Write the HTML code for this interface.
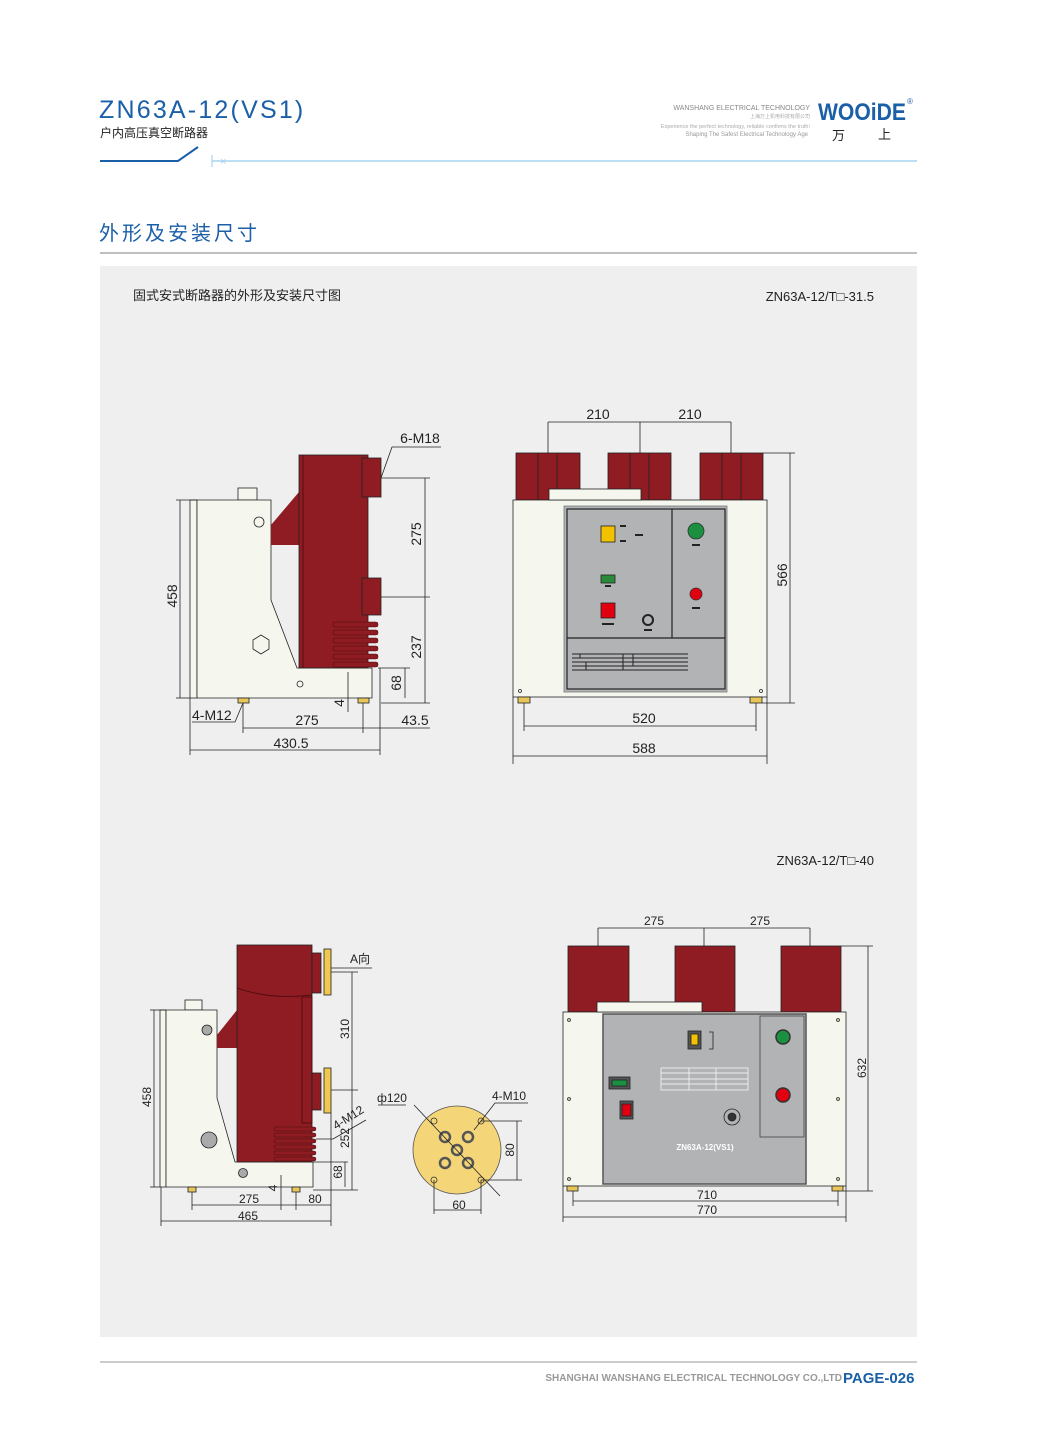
<!DOCTYPE html>
<html><head><meta charset="utf-8"><style>
html,body{margin:0;padding:0;background:#fff;}
svg{display:block;font-family:"Liberation Sans","Noto Sans CJK SC",sans-serif;}
</style></head><body>
<svg width="1055" height="1441" viewBox="0 0 1055 1441" xmlns="http://www.w3.org/2000/svg">
<rect width="1055" height="1441" fill="#fff"/>
<!-- header -->
<text x="99" y="118" font-size="25" fill="#1a5fa8" letter-spacing="2.2">ZN63A-12(VS1)</text>
<text x="100" y="137" font-size="12" fill="#222">户内高压真空断路器</text>
<polyline points="100,161 178,161 198,147" fill="none" stroke="#1a5fa8" stroke-width="2"/>
<line x1="212" y1="161" x2="917" y2="161" stroke="#a8d4f0" stroke-width="1.5"/>
<line x1="212" y1="155" x2="212" y2="167" stroke="#a8d4f0" stroke-width="1.2"/>
<text x="220" y="165" font-size="11" fill="#a8d4f0">×</text>
<text x="810" y="110" font-size="7" fill="#888" text-anchor="end">WANSHANG ELECTRICAL TECHNOLOGY</text>
<text x="810" y="118" font-size="5" fill="#aaa" text-anchor="end">上海万上机电科技有限公司</text>
<text x="810" y="128" font-size="5.5" fill="#aaa" text-anchor="end">Experience the perfect technology, reliable confirms the truth!</text>
<text x="808" y="136" font-size="6" fill="#999" text-anchor="end">Shaping The Safest Electrical Technology Age</text>
<text x="818" y="120" font-size="24" font-weight="bold" fill="#1a5fa8" textLength="88" lengthAdjust="spacingAndGlyphs">WOOiDE</text>
<text x="907" y="104" font-size="8" fill="#1a5fa8">®</text>
<text x="832" y="140" font-size="13" fill="#222">万</text>
<text x="878" y="139" font-size="13" fill="#222">上</text>
<text x="99" y="240" font-size="20" fill="#1a5fa8" letter-spacing="3">外形及安装尺寸</text>
<line x1="100" y1="253" x2="917" y2="253" stroke="#aaa" stroke-width="1.5"/>
<!-- panel -->
<rect x="100" y="266" width="817" height="1071" fill="#efefef"/>
<text x="133" y="300" font-size="13" fill="#222">固式安式断路器的外形及安装尺寸图</text>
<text x="874" y="301" font-size="13" fill="#222" text-anchor="end">ZN63A-12/T□-31.5</text>
<text x="874" y="865" font-size="13" fill="#222" text-anchor="end">ZN63A-12/T□-40</text>

<g stroke="#222" stroke-width="0.8" fill="none">
<!-- ===== Drawing 1 side view ===== -->
<rect x="238" y="488" width="19" height="12" fill="#f5f7ef"/>
<rect x="190" y="500" width="7" height="198" fill="#f5f7ef"/>
<path d="M197,500 L271,500 L271,600 L297,668 L372,668 L372,698 L197,698 Z" fill="#f5f7ef"/>
<path d="M271,525 L299,492 L299,545 L271,545 Z" fill="#8e1c22" stroke="none"/>
<rect x="299" y="455" width="69" height="213" fill="#8e1c22"/>
<line x1="303" y1="455" x2="303" y2="668" stroke="#4a0a0e"/>
<rect x="362" y="458" width="19" height="39" fill="#8e1c22"/>
<rect x="362" y="578" width="19" height="37" fill="#8e1c22"/>
<g fill="#8e1c22" stroke="#4a0a0e" stroke-width="0.5">
<rect x="333" y="622" width="45" height="5" rx="2"/><rect x="333" y="630" width="45" height="5" rx="2"/>
<rect x="333" y="638" width="45" height="5" rx="2"/><rect x="333" y="646" width="45" height="5" rx="2"/>
<rect x="333" y="654" width="45" height="5" rx="2"/><rect x="333" y="662" width="45" height="5" rx="2"/>
</g>
<circle cx="259" cy="522" r="5"/>
<polygon points="261,635 269,640 269,649 261,654 253,649 253,640"/>
<circle cx="300" cy="684" r="3"/>
<rect x="238" y="698" width="11" height="5" fill="#e8c65a"/>
<rect x="358" y="698" width="11" height="5" fill="#e8c65a"/>
<line x1="180" y1="500" x2="180" y2="698"/><line x1="176" y1="500" x2="197" y2="500"/><line x1="176" y1="698" x2="190" y2="698"/>
<line x1="381" y1="478" x2="430" y2="478"/><line x1="381" y1="597" x2="430" y2="597"/><line x1="381" y1="703" x2="430" y2="703"/>
<line x1="425" y1="478" x2="425" y2="703"/>
<line x1="378" y1="668" x2="410" y2="668"/><line x1="405" y1="668" x2="405" y2="698"/>
<line x1="348" y1="672" x2="348" y2="712"/>
<polyline points="381,478 392,447 441,447"/>
<line x1="190" y1="698" x2="190" y2="755"/><line x1="380" y1="668" x2="380" y2="755"/>
<line x1="243" y1="703" x2="243" y2="733"/><line x1="363" y1="703" x2="363" y2="733"/>
<line x1="243" y1="728" x2="363" y2="728"/><line x1="363" y1="728" x2="430" y2="728"/>
<line x1="190" y1="750" x2="380" y2="750"/>
<polyline points="192,722 235,722 243,703"/>
</g>
<g font-size="14" fill="#222">
<text x="420" y="443" text-anchor="middle">6-M18</text>
<text transform="translate(177,596) rotate(-90)" text-anchor="middle">458</text>
<text transform="translate(421,534) rotate(-90)" text-anchor="middle">275</text>
<text transform="translate(421,647) rotate(-90)" text-anchor="middle">237</text>
<text transform="translate(401,683) rotate(-90)" text-anchor="middle">68</text>
<text transform="translate(344,703) rotate(-90)" text-anchor="middle">4</text>
<text x="192" y="720">4-M12</text>
<text x="307" y="725" text-anchor="middle">275</text>
<text x="415" y="725" text-anchor="middle">43.5</text>
<text x="291" y="748" text-anchor="middle">430.5</text>
</g>

<!-- ===== Drawing 2 front ===== -->
<g stroke="#222" stroke-width="0.8" fill="none">
<g fill="#8e1c22">
<rect x="516" y="453" width="64" height="47"/><line x1="538" y1="453" x2="538" y2="500"/><line x1="557" y1="453" x2="557" y2="500"/>
<rect x="608" y="453" width="63" height="47"/><line x1="630" y1="453" x2="630" y2="500"/><line x1="649" y1="453" x2="649" y2="500"/>
<rect x="700" y="453" width="63" height="47"/><line x1="722" y1="453" x2="722" y2="500"/><line x1="741" y1="453" x2="741" y2="500"/>
</g>
<rect x="513" y="500" width="254" height="197" fill="#f5f7ef"/>
<rect x="549" y="489" width="92" height="11" fill="#f5f7ef"/>
<rect x="564" y="506" width="163" height="186" fill="#b2b3b5" stroke="#777"/>
<rect x="567" y="509" width="158" height="180" stroke="#222" stroke-width="1.2"/>
<line x1="672" y1="509" x2="672" y2="638" stroke-width="1.2"/>
<line x1="567" y1="638" x2="725" y2="638" stroke-width="1.2"/>
<g stroke-width="1"><line x1="572" y1="654" x2="688" y2="654"/><line x1="572" y1="658" x2="688" y2="658"/><line x1="572" y1="662" x2="688" y2="662"/><line x1="572" y1="666" x2="688" y2="666"/><line x1="572" y1="670" x2="688" y2="670"/>
<line x1="580" y1="654" x2="580" y2="658"/><line x1="586" y1="662" x2="586" y2="670"/><line x1="623" y1="654" x2="623" y2="670"/><line x1="633" y1="654" x2="633" y2="666"/></g>
<rect x="601" y="526" width="14" height="16" fill="#f2c200"/>
<rect x="601" y="575" width="14" height="8" fill="#2a8a3a"/>
<rect x="601" y="603" width="14" height="15" fill="#e00010"/>
<circle cx="648" cy="620" r="5" stroke-width="2"/>
<circle cx="696" cy="531" r="8" fill="#1a9040" stroke="#333"/>
<circle cx="696" cy="594" r="6" fill="#e00010" stroke="#333"/>
<circle cx="520" cy="691" r="1.5"/><circle cx="761" cy="691" r="1.5"/>
<rect x="518" y="697" width="12" height="6" fill="#e8c65a"/><rect x="750" y="697" width="12" height="6" fill="#e8c65a"/>
<line x1="548" y1="422" x2="548" y2="453"/><line x1="640" y1="422" x2="640" y2="453"/><line x1="731" y1="422" x2="731" y2="453"/>
<line x1="548" y1="422" x2="731" y2="422"/>
<line x1="763" y1="453" x2="795" y2="453"/><line x1="762" y1="703" x2="795" y2="703"/><line x1="790" y1="453" x2="790" y2="703"/>
<line x1="524" y1="703" x2="524" y2="731"/><line x1="756" y1="703" x2="756" y2="731"/><line x1="524" y1="726" x2="756" y2="726"/>
<line x1="513" y1="697" x2="513" y2="764"/><line x1="767" y1="697" x2="767" y2="764"/><line x1="513" y1="756" x2="767" y2="756"/>
</g>
<g fill="#222" stroke="none"><rect x="620" y="525" width="6" height="2"/><rect x="620" y="540" width="6" height="2"/><rect x="635" y="534" width="8" height="2"/><rect x="692" y="544" width="8" height="2"/><rect x="692" y="607" width="8" height="2"/><rect x="605" y="585" width="6" height="2"/><rect x="602" y="623" width="12" height="2"/><rect x="644" y="629" width="8" height="2"/></g>
<g font-size="14" fill="#222">
<text x="598" y="419" text-anchor="middle">210</text>
<text x="690" y="419" text-anchor="middle">210</text>
<text transform="translate(787,575) rotate(-90)" text-anchor="middle">566</text>
<text x="644" y="723" text-anchor="middle">520</text>
<text x="644" y="753" text-anchor="middle">588</text>
</g>

<!-- ===== Drawing 3 side view ===== -->
<g stroke="#222" stroke-width="0.8" fill="none">
<rect x="185" y="1000" width="17" height="10" fill="#f5f7ef"/>
<rect x="160" y="1010" width="6" height="177" fill="#f5f7ef"/>
<path d="M166,1010 L217,1010 L217,1098 L235,1162 L313,1162 L313,1187 L166,1187 Z" fill="#f5f7ef"/>
<path d="M217,1035 L237,1010 L237,1048 L217,1048 Z" fill="#8e1c22" stroke="none"/>
<rect x="237" y="945" width="75" height="217" fill="#8e1c22"/>
<path d="M237,988 Q270,1000 312,995" stroke="#4a0a0e"/>
<rect x="302" y="997" width="10" height="126" stroke="#4a0a0e"/>
<rect x="312" y="953" width="9" height="40" fill="#8e1c22"/><rect x="324" y="949" width="7" height="46" fill="#f0c850"/>
<rect x="312" y="1073" width="9" height="37" fill="#8e1c22"/><rect x="324" y="1068" width="7" height="45" fill="#f0c850"/>
<g fill="#8e1c22" stroke="#4a0a0e" stroke-width="0.5">
<rect x="274" y="1127" width="42" height="4" rx="2"/><rect x="274" y="1133" width="42" height="4" rx="2"/><rect x="274" y="1139" width="42" height="4" rx="2"/><rect x="274" y="1145" width="42" height="4" rx="2"/><rect x="274" y="1151" width="42" height="4" rx="2"/><rect x="274" y="1157" width="42" height="4" rx="2"/>
</g>
<circle cx="207" cy="1030" r="5" fill="#aaa"/><circle cx="209" cy="1140" r="8" fill="#aaa"/><circle cx="243" cy="1173" r="4.5" fill="#aaa"/>
<rect x="188" y="1187" width="8" height="5" fill="#e8c65a"/><rect x="292" y="1187" width="8" height="5" fill="#e8c65a"/>
<line x1="150" y1="1010" x2="166" y2="1010"/><line x1="150" y1="1187" x2="160" y2="1187"/><line x1="154" y1="1010" x2="154" y2="1187"/>
<line x1="331" y1="972" x2="358" y2="972"/><line x1="331" y1="1090" x2="358" y2="1090"/><line x1="313" y1="1190" x2="358" y2="1190"/>
<line x1="352" y1="972" x2="352" y2="1190"/>
<line x1="313" y1="1162" x2="348" y2="1162"/><line x1="345" y1="1162" x2="345" y2="1187"/>
<line x1="281" y1="1175" x2="281" y2="1210"/>
<polyline points="316,1139 333,1139 366,1120"/>
<line x1="161" y1="1187" x2="161" y2="1226"/><line x1="331" y1="1113" x2="331" y2="1226"/>
<line x1="192" y1="1192" x2="192" y2="1210"/><line x1="296" y1="1192" x2="296" y2="1210"/>
<line x1="192" y1="1205" x2="331" y2="1205"/><line x1="161" y1="1221" x2="331" y2="1221"/>
<line x1="331" y1="968" x2="372" y2="968"/>
<circle cx="457" cy="1150" r="44" fill="#f4d678" stroke="#555"/>
<g stroke="#555" stroke-width="2.5"><circle cx="445" cy="1137" r="5"/><circle cx="468" cy="1137" r="5"/><circle cx="457" cy="1150" r="5"/><circle cx="445" cy="1163" r="5"/><circle cx="468" cy="1163" r="5"/></g>
<g stroke="#333"><circle cx="434" cy="1121" r="3"/><circle cx="481" cy="1121" r="3"/><circle cx="434" cy="1180" r="3"/><circle cx="481" cy="1180" r="3"/></g>
<line x1="414" y1="1105" x2="500" y2="1196"/>
<polyline points="474,1130 495,1103 528,1103"/>
<polyline points="378,1105 406,1105"/>
<line x1="481" y1="1121" x2="522" y2="1121"/><line x1="481" y1="1180" x2="522" y2="1180"/><line x1="517" y1="1121" x2="517" y2="1180"/>
<line x1="434" y1="1180" x2="434" y2="1214"/><line x1="481" y1="1180" x2="481" y2="1214"/><line x1="434" y1="1210" x2="481" y2="1210"/>
</g>
<g font-size="12" fill="#222">
<text x="350" y="963">A向</text>
<text transform="translate(151,1097) rotate(-90)" text-anchor="middle">458</text>
<text transform="translate(349,1029) rotate(-90)" text-anchor="middle">310</text>
<text transform="translate(349,1138) rotate(-90)" text-anchor="middle">252</text>
<text transform="translate(342,1172) rotate(-90)" text-anchor="middle">68</text>
<text transform="translate(277,1188) rotate(-90)" text-anchor="middle">4</text>
<text transform="translate(336,1130) rotate(-32)">4-M12</text>
<text x="249" y="1203" text-anchor="middle">275</text>
<text x="315" y="1203" text-anchor="middle">80</text>
<text x="248" y="1220" text-anchor="middle">465</text>
<text x="377" y="1102">ф120</text>
<text x="492" y="1100">4-M10</text>
<text transform="translate(514,1150) rotate(-90)" text-anchor="middle">80</text>
<text x="459" y="1209" text-anchor="middle">60</text>
</g>

<!-- ===== Drawing 4 front ===== -->
<g stroke="#222" stroke-width="0.8" fill="none">
<rect x="568" y="946" width="61" height="66" fill="#8e1c22"/>
<rect x="675" y="946" width="60" height="66" fill="#8e1c22"/>
<rect x="781" y="946" width="60" height="66" fill="#8e1c22"/>
<rect x="563" y="1012" width="283" height="174" fill="#f5f7ef"/>
<rect x="597" y="1002" width="105" height="10" fill="#f5f7ef"/>
<rect x="603" y="1014" width="203" height="170" fill="#b2b3b5" stroke="#555" stroke-width="1.5"/>
<rect x="760" y="1016" width="44" height="121" stroke="#444"/>
<circle cx="783" cy="1037" r="7" fill="#1a9040" stroke="#333" stroke-width="1.5"/>
<circle cx="783" cy="1095" r="7" fill="#e00010" stroke="#333" stroke-width="1.5"/>
<rect x="688" y="1031" width="13" height="18" fill="#555"/><rect x="691" y="1034" width="7" height="11" fill="#f2c200"/>
<polyline points="709,1032 713,1032 713,1049 709,1049"/>
<rect x="609" y="1077" width="21" height="12" fill="#555"/><rect x="612" y="1080" width="15" height="6" fill="#1a9040"/>
<rect x="620" y="1101" width="13" height="18" fill="#555"/><rect x="622" y="1104" width="9" height="12" fill="#e00010"/>
<circle cx="732" cy="1117" r="8"/><circle cx="732" cy="1117" r="4" fill="#333"/>
<g stroke="#fff" stroke-width="0.7"><rect x="661" y="1068" width="87" height="22"/><line x1="661" y1="1073" x2="748" y2="1073"/><line x1="661" y1="1079" x2="748" y2="1079"/><line x1="661" y1="1084" x2="748" y2="1084"/><line x1="689" y1="1068" x2="689" y2="1090"/><line x1="716" y1="1068" x2="716" y2="1090"/></g>
<g fill="#cc9" stroke="#333"><circle cx="569" cy="1020" r="1.5"/><circle cx="838" cy="1020" r="1.5"/><circle cx="569" cy="1099" r="1.5"/><circle cx="838" cy="1099" r="1.5"/><circle cx="569" cy="1179" r="1.5"/><circle cx="838" cy="1179" r="1.5"/></g>
<rect x="567" y="1186" width="11" height="5" fill="#e8c65a"/><rect x="832" y="1186" width="11" height="5" fill="#e8c65a"/>
<line x1="598" y1="928" x2="598" y2="946"/><line x1="704" y1="928" x2="704" y2="946"/><line x1="810" y1="928" x2="810" y2="946"/>
<line x1="598" y1="928" x2="810" y2="928"/>
<line x1="841" y1="946" x2="873" y2="946"/><line x1="843" y1="1191" x2="873" y2="1191"/><line x1="868" y1="946" x2="868" y2="1191"/>
<line x1="573" y1="1191" x2="573" y2="1206"/><line x1="838" y1="1191" x2="838" y2="1206"/><line x1="573" y1="1201" x2="838" y2="1201"/>
<line x1="563" y1="1186" x2="563" y2="1222"/><line x1="846" y1="1186" x2="846" y2="1222"/><line x1="563" y1="1217" x2="846" y2="1217"/>
</g>
<text x="705" y="1150" font-size="8" font-weight="bold" fill="#fff" text-anchor="middle">ZN63A-12(VS1)</text>
<g font-size="12" fill="#222">
<text x="654" y="925" text-anchor="middle">275</text>
<text x="760" y="925" text-anchor="middle">275</text>
<text transform="translate(866,1068) rotate(-90)" text-anchor="middle">632</text>
<text x="707" y="1199" text-anchor="middle">710</text>
<text x="707" y="1214" text-anchor="middle">770</text>
</g>

<!-- footer -->
<line x1="100" y1="1362" x2="917" y2="1362" stroke="#999" stroke-width="1"/>
<text x="842" y="1381" font-size="10" font-weight="bold" fill="#999" text-anchor="end">SHANGHAI WANSHANG ELECTRICAL TECHNOLOGY CO.,LTD</text>
<text x="843" y="1383" font-size="15" font-weight="bold" fill="#1a5fa8">PAGE-026</text>
</svg>
</body></html>
